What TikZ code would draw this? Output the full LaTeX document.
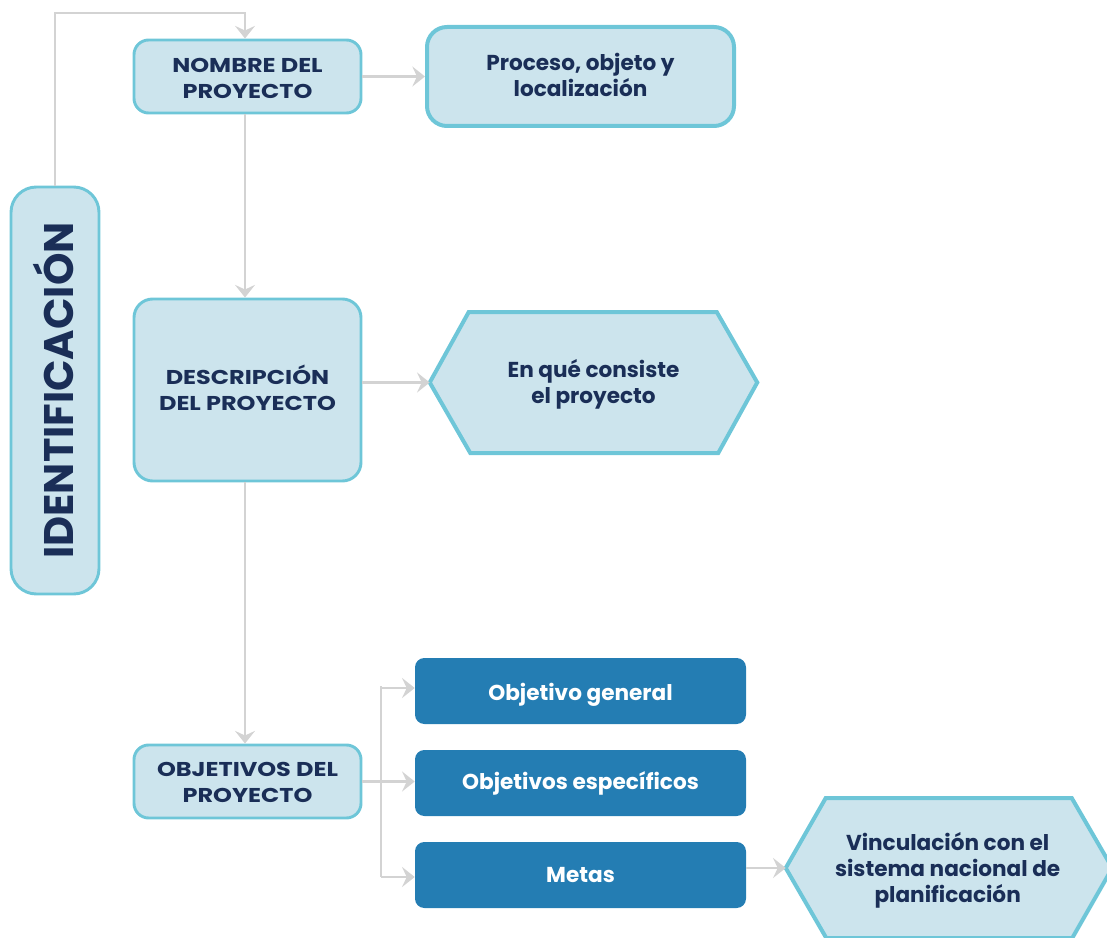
\documentclass[tikz,border=0pt]{standalone}
\usepackage{fontspec}
\setmainfont{Poppins}
\newfontfamily\capsfont[FakeStretch=1.2]{Poppins}
\usetikzlibrary{arrows.meta}
\definecolor{lightfill}{HTML}{CCE4ED}
\definecolor{cyanline}{HTML}{6EC6D8}
\definecolor{navy}{HTML}{1A2E57}
\definecolor{midblue}{HTML}{247DB3}
\definecolor{grayline}{HTML}{D3D3D3}
\begin{document}
\begin{tikzpicture}[x=0.75pt,y=-0.75pt,
  lbox/.style={draw=cyanline,fill=lightfill,line width=2.2pt,rounded corners=11pt,
    text=navy,font=\capsfont\bfseries\fontsize{15}{19.5}\selectfont,align=center,inner sep=0pt},
  dbox/.style={fill=midblue,rounded corners=7pt,text=white,
    font=\bfseries\fontsize{16.2}{19.5}\selectfont,align=center,inner sep=0pt,
    minimum width=331*0.75pt,minimum height=66*0.75pt},
  wtext/.style={text=white,font=\bfseries\fontsize{16.2}{19.5}\selectfont,align=center,inner sep=0pt},
  hexfill/.style={draw=cyanline,fill=lightfill,line width=3pt,line join=miter},
  htext/.style={text=navy,font=\bfseries\fontsize{16.2}{19.5}\selectfont,align=center,inner sep=0pt},
  ctext/.style={text=navy,font=\capsfont\bfseries\fontsize{15}{19.5}\selectfont,align=center,inner sep=0pt},
  conn/.style={draw=grayline,line width=1.6pt,-{Stealth[length=9.5pt,width=15pt,inset=3.5pt]}},
  plain/.style={draw=grayline,line width=1.6pt}]
\useasboundingbox (0,0) rectangle (1107,938);
\begin{scope}
\clip (0,0) rectangle (1107,938);
% IDENTIFICACION
\node[lbox,rounded corners=19pt,minimum width=88*0.75pt,minimum height=407*0.75pt] (id) at (55,390.5) {};
\node[rotate=90,text=navy,font=\bfseries\fontsize{31}{33}\selectfont,inner sep=0pt] (idt) at ([xshift=-1pt]id.center) {IDENTIFICACIÓN};
% boxes
\node[lbox,minimum width=227*0.75pt,minimum height=73*0.75pt] (nom) at (247.5,76.5) {};
\node[ctext] at ([yshift=-1.5pt]nom.center) {NOMBRE DEL\\PROYECTO};
\node[lbox,line width=3pt,rounded corners=15pt,minimum width=307*0.75pt,minimum height=99*0.75pt] (proc) at (580.5,76.5) {};
\node[htext] at ([yshift=1.5pt]proc.center) {Proceso, objeto y\\localización};
\node[lbox,rounded corners=14pt,minimum width=227*0.75pt,minimum height=182*0.75pt] (desc) at (247.5,390) {};
\node[ctext] at ([yshift=2pt]desc.center) {DESCRIPCIÓN\\DEL PROYECTO};
\node[lbox,minimum width=227*0.75pt,minimum height=73*0.75pt] (obj) at (247.5,781.5) {};
\node[ctext] at ([yshift=-0.5pt]obj.center) {OBJETIVOS DEL\\PROYECTO};
% hexagon 1
\node[minimum width=327*0.75pt,minimum height=141*0.75pt,inner sep=0pt] (hex1) at (593.5,382.5) {};
\draw[hexfill] (hex1.west) -- ++(39,-70.5) -- ++(248,0) -- (hex1.east) -- ++(-39,70.5) -- ++(-248,0) -- cycle;
\node[htext] at ([yshift=-1.5pt]hex1.center) {En qué consiste\\el proyecto};
% blue boxes
\node[dbox] (og) at (580.5,691) {};
\node[wtext] at ([yshift=-2.5pt]og.center) {Objetivo general};
\node[dbox] (oe) at (580.5,783) {Objetivos específicos};
\node[dbox] (me) at (580.5,875) {Metas};
% hexagon 2
\node[minimum width=326*0.75pt,minimum height=140*0.75pt,inner sep=0pt] (hex2) at (949,868) {};
\draw[hexfill] (hex2.west) -- ++(40,-70) -- ++(246,0) -- (hex2.east) -- ++(-40,70) -- ++(-246,0) -- cycle;
\node[htext] at ([xshift=-1pt,yshift=-2pt]hex2.center) {Vinculación con el\\sistema nacional de\\planificación};
\end{scope}
% connectors
\draw[conn] (id.north) -- (55,13) -- (245,13) -- (nom.north -| 245,0);
\draw[conn] (nom.east) -- (proc.west);
\draw[conn] (nom.south -| 245,0) -- (desc.north -| 245,0);
\draw[conn] (desc.east |- hex1.west) -- (hex1.west);
\draw[conn] (desc.south -| 245,0) -- (obj.north -| 245,0);
\coordinate (split) at (381,781.5);
\draw[plain] (obj.east) -- (split);
\draw[plain] (381,686) -- (381,877);
\draw[conn] (381,688) -- (og.west |- 0,688);
\draw[conn] (split) -- (oe.west |- split);
\draw[conn] (381,877) -- (me.west |- 0,877);
\draw[conn] (me.east |- hex2.west) -- (hex2.west);
\end{tikzpicture}
\end{document}
